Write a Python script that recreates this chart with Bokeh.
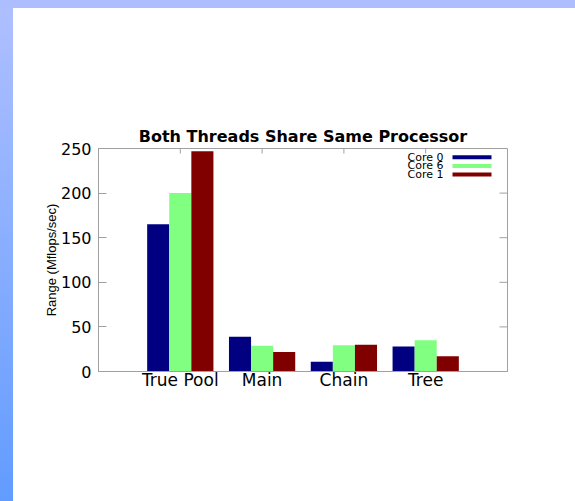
from bokeh.plotting import figure
from bokeh.models import (Range1d, FixedTicker, BoxAnnotation, Label, ColumnDataSource)
from bokeh.transform import dodge
from bokeh.embed import file_html
from bokeh.resources import INLINE
import math

# Benchmark results (Mflops/sec) per data structure, one series per core
categories = ["True Pool", "Main", "Chain", "Tree"]
core0 = [165, 39, 11, 28]
core6 = [200, 29, 29.5, 35]
core1 = [247, 22, 30, 17]
series_names = ["Core 0", "Core 6", "Core 1"]
series_colors = ["#000080", "#80ff80", "#800000"]
y_ticks = [0, 50, 100, 150, 200, 250]

W, H = 575, 501
FONT = "DejaVu Sans"
AXIS_GREY = "#a0a0a0"

x_pos = list(range(len(categories)))
x_lo, x_hi = -1, len(categories)
y_lo, y_hi = 0, 250
source = ColumnDataSource(dict(x=x_pos, core0=core0, core6=core6, core1=core1))

p = figure(width=W, height=H, x_range=Range1d(x_lo, x_hi),
           y_range=Range1d(y_lo, y_hi), output_backend="svg", toolbar_location=None,
           min_border_left=98, min_border_right=68, min_border_top=148,
           min_border_bottom=130, title="Both Threads Share Same Processor")
p.background_fill_color = "white"
p.border_fill_alpha = 0
p.outline_line_color = AXIS_GREY
p.grid.visible = False

# Slide decoration behind the (transparent) canvas: flat band on top,
# vertical gradient band down the left edge
p.styles = {
    "background": ("linear-gradient(#adbeff, #adbeff) 0 0 / 100% 8px no-repeat, "
                   "linear-gradient(#b0c0ff, #629cff) 0 0 / 13px 100% no-repeat, white"),
}

p.title.align = "center"
p.title.text_font = FONT
p.title.text_font_size = "16px"
p.title.text_font_style = "bold"
p.title.text_color = "black"
p.title.standoff = 6

# Grouped bars
bar_w = 0.27
for key, off, col in zip(["core0", "core6", "core1"], [-bar_w, 0, bar_w], series_colors):
    p.vbar(x=dodge("x", off, range=p.x_range), top=key, width=bar_w, bottom=0,
           source=source, fill_color=col, line_color=None)

# Bottom axis with category names
xa = p.xaxis[0]
xa.ticker = FixedTicker(ticks=x_pos)
xa.major_label_overrides = {i: c for i, c in enumerate(categories)}
xa.major_tick_in = 0
xa.major_tick_out = 0
xa.minor_tick_line_color = None
xa.axis_line_color = AXIS_GREY
xa.major_label_standoff = -2
xa.major_label_text_font = FONT
xa.major_label_text_font_size = "17px"
xa.major_label_text_color = "black"

# Left axis
ya = p.yaxis[0]
ya.ticker = FixedTicker(ticks=y_ticks)
ya.major_tick_in = 8
ya.major_tick_out = 0
ya.major_tick_line_color = AXIS_GREY
ya.minor_tick_line_color = None
ya.axis_line_color = AXIS_GREY
ya.major_label_standoff = 7
ya.major_label_text_font = FONT
ya.major_label_text_font_size = "16px"
ya.major_label_text_color = "black"
ya.axis_label = "Range (Mflops/sec)"
ya.axis_label_text_font = "Liberation Sans"
ya.axis_label_text_font_size = "13px"
ya.axis_label_text_font_style = "normal"
ya.axis_label_text_color = "black"
ya.axis_label_standoff = -1

# Mirrored tick marks on the right and top borders
p.ray(x=[x_hi] * len(y_ticks), y=y_ticks, length=8, length_units="screen",
      angle=math.pi, line_color=AXIS_GREY, line_width=1)
p.ray(x=x_pos, y=[y_hi] * len(x_pos), length=5, length_units="screen",
      angle=-math.pi / 2, line_color=AXIS_GREY, line_width=1)

# Key in the top-right corner: label on the left, colour bar on the right
for i, (name, col) in enumerate(zip(series_names, series_colors)):
    yc = 156.7 + i * 8.7
    p.add_layout(Label(x=443, y=yc, x_units="canvas", y_units="canvas", text=name,
                       text_align="right", text_baseline="middle", text_font=FONT,
                       text_font_size="11px", text_color="black"))
    p.add_layout(BoxAnnotation(left=452, right=491, top=yc - 2, bottom=yc + 2,
                               left_units="canvas", right_units="canvas",
                               top_units="canvas", bottom_units="canvas",
                               fill_color=col, fill_alpha=1, line_color=None))

open("out.html", "w").write(file_html(p, INLINE))
